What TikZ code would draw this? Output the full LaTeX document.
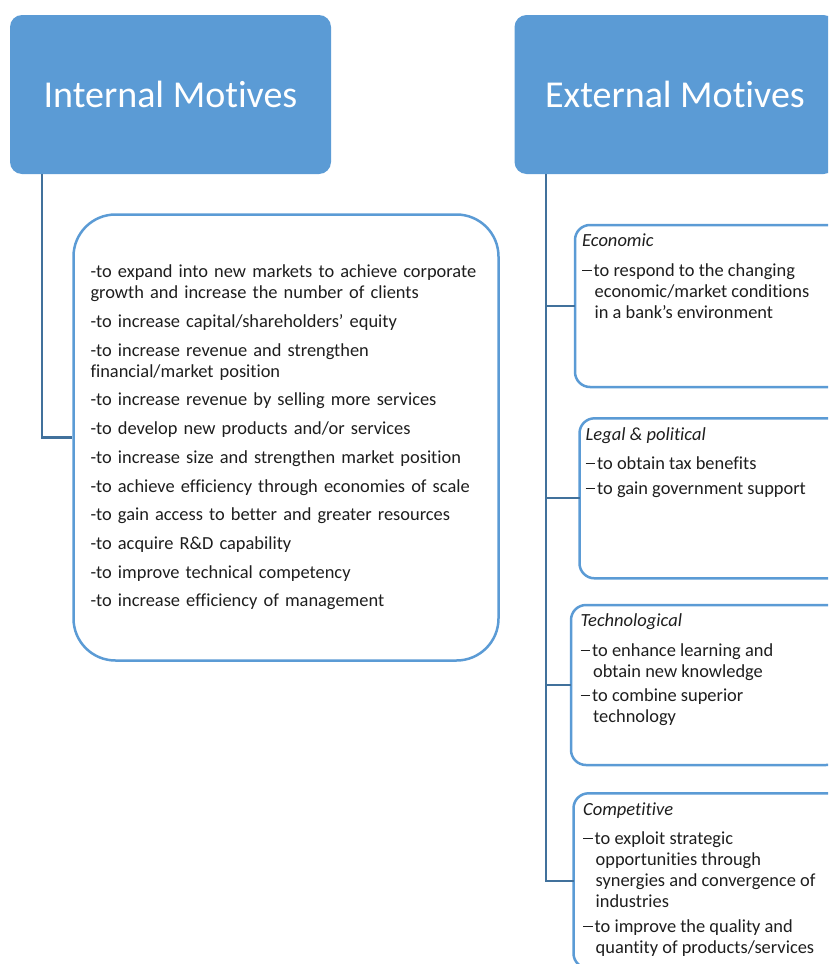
\documentclass[tikz,border=0pt]{standalone}
\usepackage{fontspec}
\setmainfont{Carlito}[RawFeature={-liga}]
\usetikzlibrary{positioning}
\definecolor{headblue}{RGB}{91,155,213}
\definecolor{linkblue}{RGB}{65,113,156}
\definecolor{ink}{RGB}{30,30,30}
\hyphenpenalty=10000
% dash at the start of an item, and the indent of its next lines
\newcommand{\dashitem}{\makebox[11.5pt][l]{\rule[5.5pt]{9.5pt}{1.3pt}}}
\newcommand{\hangline}{\hspace*{12.5pt}}

\begin{document}
\begin{tikzpicture}[x=1pt, y=-1pt,
  header/.style={rectangle, rounded corners=12pt, fill=headblue, text=white,
    minimum width=321pt, minimum height=159pt, font=\fontsize{38}{40}\selectfont},
  listbox/.style={rectangle, draw=headblue, line width=2.5pt, fill=white},
  subbox/.style={listbox, rounded corners=15pt, anchor=north west, outer sep=0pt,
    inner sep=0pt, minimum width=270pt},
  link/.style={draw=linkblue, line width=2.2pt},
  body/.style={font=\fontsize{18.4}{21}\selectfont, text=ink, align=left, inner sep=0pt}]
\useasboundingbox (0,0) rectangle (828,964);
\clip (0,0) rectangle (828,964);

% the two headings
\node[header] (int) at (170.5,94.5) {Internal Motives};
\node[header] (ext) at (675,94.5) {External Motives};

% internal motives: one list
\node[listbox, body, rounded corners=42pt, minimum width=425pt, minimum height=446pt,
  text width=391pt] (intlist) at (286,437.5) {%
-to expand into new markets to achieve corporate\\
growth and increase the number of clients\\[7.7pt]
-to increase capital/shareholders’ equity\\[7.7pt]
-to increase revenue and strengthen\\
financial/market position\\[7.7pt]
-to increase revenue by selling more services\\[7.7pt]
-to develop new products and/or services\\[7.7pt]
-to increase size and strengthen market position\\[7.7pt]
-to achieve efficiency through economies of scale\\[7.7pt]
-to gain access to better and greater resources\\[7.7pt]
-to acquire R\&D capability\\[7.7pt]
-to improve technical competency\\[7.7pt]
-to increase efficiency of management};

% external motives: four groups
\node[subbox, minimum height=162pt] (econ) at (575,225) {};
\node[subbox, minimum height=160pt] (legal) at (579.5,418.3) {};
\node[subbox, minimum height=160pt] (tech) at (571,605) {};
\node[subbox, minimum height=175pt] (comp) at (573.5,793.3) {};

\node[body, anchor=north west] (econtxt) at ([shift={(7,7)}]econ.north west) {%
\strut{\itshape\fontsize{18.5}{21}\selectfont Economic}\\[9pt]
\dashitem to respond to the changing\\
\hangline economic/market conditions\\
\hangline in a bank’s environment};
\node[body, anchor=north west] (legaltxt) at ([shift={(6,7)}]legal.north west) {%
\strut{\itshape\fontsize{18.5}{21}\selectfont Legal \& political}\\[8.5pt]
\dashitem to obtain tax benefits\\[4pt]
\dashitem to gain government support};
\node[body, anchor=north west] (techtxt) at ([shift={(9.5,7)}]tech.north west) {%
\strut{\itshape\fontsize{18.5}{21}\selectfont Technological}\\[8.5pt]
\dashitem to enhance learning and\\
\hangline obtain new knowledge\\[3.5pt]
\dashitem to combine superior\\
\hangline technology};
\node[body, anchor=north west] (comptxt) at ([shift={(9.5,7)}]comp.north west) {%
\strut{\itshape\fontsize{18.5}{21}\selectfont Competitive}\\[8.5pt]
\dashitem to exploit strategic\\
\hangline opportunities through\\
\hangline synergies and convergence of\\
\hangline industries\\[4pt]
\dashitem to improve the quality and\\
\hangline quantity of products/services};

% connectors
\draw[link] ([xshift=32pt]int.south west) |- (intlist.west);
\coordinate (spine) at ([xshift=32pt]ext.south west);
\draw[link] (spine) |- (comp.west);
\foreach \grp in {econ,legal,tech}
  \draw[link] (spine |- \grp.west) -- (\grp.west);
\end{tikzpicture}
\end{document}
